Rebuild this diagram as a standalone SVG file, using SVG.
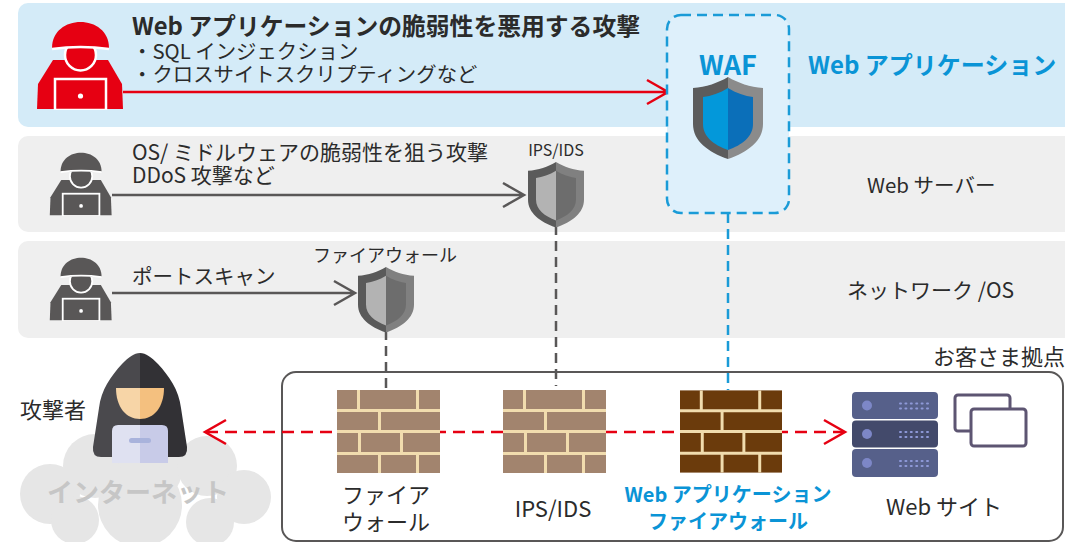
<svg xmlns="http://www.w3.org/2000/svg" xmlns:xlink="http://www.w3.org/1999/xlink" width="1065" height="542" viewBox="0 0 1065 542">
  <style>
    .t{font-family:"Noto Sans CJK JP","Noto Sans",sans-serif;fill:#2b2b2b}
    .b{font-weight:700}
    .blue{fill:#0a94d6}
    .mid{text-anchor:middle}
    .band-gray{fill:#efefef}
    .arrow-red{fill:none;stroke:#e60012;stroke-width:2.5}
    .arrow-gray{fill:none;stroke:#595757;stroke-width:2.5}
    .dash-gray{stroke:#595757;stroke-width:2.5;stroke-dasharray:10 6}
    .dash-blue{stroke:#1a9bd7;stroke-width:2.5;stroke-dasharray:10 6}
    .dash-red{stroke:#e60012;stroke-width:2.5;stroke-dasharray:12 7}
    .brick-line{stroke:#f1dcae;stroke-width:3}
    .win{fill:#fff;stroke:#5d5572;stroke-width:3}
  </style>
  <defs>
    <!-- hooded attacker with laptop -->
    <symbol id="hacker" viewBox="36 21 88 89">
      <path d="M53,60 L108,60 L122,84 L123,109 L37,109 L38,84 Z" fill="currentColor"/>
      <circle cx="80.5" cy="55" r="15.5" fill="currentColor" stroke="#fff" stroke-width="2.5"/>
      <path d="M52,48 C52,31 66,22 80.5,22 C95,22 109,31 109,48 Z" fill="currentColor"/>
      <path d="M52,49 Q80.5,45 109,49" fill="none" stroke="#fff" stroke-width="2.5"/>
      <rect x="55" y="79" width="51" height="31" fill="currentColor" stroke="#fff" stroke-width="2.5"/>
      <circle cx="80.5" cy="96" r="2.6" fill="#fff"/>
    </symbol>
    <!-- two-tone shield -->
    <symbol id="shield" viewBox="-35 0 70 82">
      <path style="fill:var(--ol)" d="M0,0 C-10,6 -22,10 -35,11 L-35,47 C-35,64 -20,75 0,82 Z"/>
      <path style="fill:var(--or)" d="M0,0 C10,6 22,10 35,11 L35,47 C35,64 20,75 0,82 Z"/>
      <path style="fill:var(--il)" d="M0,11 C-8,16 -17,19 -25,20 L-25,47 C-25,60 -14,68 0,73 Z"/>
      <path style="fill:var(--ir)" d="M0,11 C8,16 17,19 25,20 L25,47 C25,60 14,68 0,73 Z"/>
    </symbol>
    <!-- brick wall -->
    <symbol id="wall" viewBox="0 0 103 83">
      <rect x="0" y="0" width="103" height="83" fill="currentColor"/>
      <path class="brick-line" d="M0,20.5H103M0,41.5H103M0,63.5H103M21.5,0V19M80.5,0V19M42.5,22V40M22.5,43V62M64.5,43V62M42.5,65V83M80.5,65V83"/>
    </symbol>
  </defs>

  <!-- layer bands -->
  <rect x="18" y="3" width="1070" height="124" rx="10" fill="#d4ebf8"/>
  <rect class="band-gray" x="18" y="136" width="1070" height="96" rx="10"/>
  <rect class="band-gray" x="18" y="241" width="1070" height="97" rx="10"/>

  <!-- customer site frame -->
  <rect x="282" y="372" width="781" height="169" rx="14" fill="#fff" stroke="#595757" stroke-width="2"/>
  <text class="t" x="933" y="365" font-size="22">お客さま拠点</text>

  <!-- internet cloud -->
  <g id="cloud" fill="#e6e6e6">
    <circle cx="50" cy="494" r="30"/>
    <circle cx="95" cy="466" r="32"/>
    <circle cx="150" cy="470" r="32"/>
    <circle cx="207" cy="466" r="30"/>
    <circle cx="244" cy="497" r="27"/>
    <circle cx="140" cy="505" r="42"/>
    <circle cx="75" cy="520" r="24"/>
    <circle cx="210" cy="522" r="24"/>
  </g>
  <text class="t b" x="47" y="502" font-size="26" style="fill:#c6c6c6">インターネット</text>

  <!-- connectors -->
  <g id="connectors">
    <path class="arrow-red" d="M123,92H667M647,80L668,92L647,104"/>
    <path class="arrow-gray" d="M112,195H523M503,183L524,195L503,207"/>
    <path class="arrow-gray" d="M112,293H354M334,281L355,293L334,305"/>
    <line class="dash-gray" x1="386" y1="330" x2="386" y2="390"/>
    <line class="dash-gray" x1="556" y1="225" x2="556" y2="386"/>
    <line class="dash-blue" x1="728" y1="213" x2="728" y2="390"/>
    <line class="dash-red" x1="206" y1="432" x2="843" y2="432"/>
    <path class="arrow-red" d="M226,420L205,432L226,444M824,420L845,432L824,444"/>
  </g>

  <!-- attackers per layer -->
  <g id="attacker-app" style="color:#e60012">
    <use xlink:href="#hacker" x="36" y="21" width="88" height="89"/>
    <text class="t b" x="132" y="35" font-size="23.8">Web アプリケーションの脆弱性を悪用する攻撃</text>
    <text class="t" x="132" y="59" font-size="20.4">・SQL インジェクション</text>
    <text class="t" x="132" y="82" font-size="20.4">・クロスサイトスクリプティングなど</text>
  </g>
  <g id="attacker-os" style="color:#595757">
    <use xlink:href="#hacker" x="49" y="152" width="63.4" height="64"/>
    <text class="t" x="132" y="160" font-size="21">OS/ ミドルウェアの脆弱性を狙う攻撃</text>
    <text class="t" x="132" y="183" font-size="21">DDoS 攻撃など</text>
  </g>
  <g id="attacker-net" style="color:#595757">
    <use xlink:href="#hacker" x="49" y="257" width="63.4" height="64"/>
    <text class="t" x="132" y="284" font-size="20.5">ポートスキャン</text>
  </g>

  <!-- layer names -->
  <text class="t b blue" x="808" y="74" font-size="24">Web アプリケーション</text>
  <text class="t" x="867" y="193" font-size="20.5">Web サーバー</text>
  <text class="t" x="847" y="298" font-size="21">ネットワーク /OS</text>

  <!-- WAF -->
  <g id="waf">
    <rect x="667" y="15" width="122" height="198" rx="14" fill="#def0fb" class="dash-blue"/>
    <text class="t b blue mid" x="728" y="75" font-size="27">WAF</text>
    <use xlink:href="#shield" x="693" y="77" width="70" height="82" style="--ol:#5c5c5c;--or:#8b8b8b;--il:#0398da;--ir:#0b6fb9"/>
  </g>

  <!-- IPS/IDS shield -->
  <g id="ips-shield">
    <text class="t mid" x="556" y="156" font-size="16">IPS/IDS</text>
    <use xlink:href="#shield" x="528" y="162" width="56" height="65.6" style="--ol:#5a5a5a;--or:#808080;--il:#b3b3b3;--ir:#6d6d6d"/>
  </g>

  <!-- firewall shield -->
  <g id="fw-shield">
    <text class="t mid" x="385" y="262" font-size="18">ファイアウォール</text>
    <use xlink:href="#shield" x="358" y="267" width="56" height="65.6" style="--ol:#5a5a5a;--or:#808080;--il:#b3b3b3;--ir:#6d6d6d"/>
  </g>

  <!-- attacker on the internet -->
  <g id="attacker">
    <text class="t" x="20" y="418" font-size="22">攻撃者</text>
    <path d="M140,353 C134,353 129,357 122,364 C111,376 101,390 99,408 L93,447 Q92,457 101,457 L140,457 Z" fill="#4a494d"/>
    <path d="M140,353 C146,353 151,357 158,364 C169,376 179,390 181,408 L187,447 Q188,457 179,457 L140,457 Z" fill="#323135"/>
    <path d="M116,388 L140,388 L140,419 C126,419 116,407 116,388 Z" fill="#f7d5a7"/>
    <path d="M164,388 L140,388 L140,419 C154,419 164,407 164,388 Z" fill="#f4c07f"/>
    <path d="M140,425 L118,425 Q112,425 112,431 L112,463 L140,463 Z" fill="#dfe1f1"/>
    <path d="M140,425 L162,425 Q168,425 168,431 L168,463 L140,463 Z" fill="#c8cbe8"/>
    <rect x="129" y="438" width="22" height="5" rx="2.5" fill="#a9b3dc"/>
  </g>

  <!-- firewall -->
  <g id="firewall">
    <use xlink:href="#wall" x="337" y="390" width="103" height="83" style="color:#a2846e"/>
    <text class="t mid" x="386" y="503" font-size="22">ファイア</text>
    <text class="t mid" x="386" y="530" font-size="22">ウォール</text>
  </g>

  <!-- IPS/IDS -->
  <g id="ips">
    <use xlink:href="#wall" x="503" y="390" width="103" height="83" style="color:#a2846e"/>
    <text class="t mid" x="553" y="517" font-size="22">IPS/IDS</text>
  </g>

  <!-- web application firewall -->
  <g id="waf-wall">
    <use xlink:href="#wall" x="680" y="390" width="102" height="83" style="color:#6b3b0c"/>
    <text class="t b blue mid" x="728" y="502" font-size="20">Web アプリケーション</text>
    <text class="t b blue mid" x="728" y="529" font-size="20">ファイアウォール</text>
  </g>

  <!-- web site -->
  <g id="website">
    <rect x="852" y="392" width="86" height="27" rx="4" fill="#56608a"/>
    <rect x="852" y="420.5" width="86" height="27" rx="4" fill="#434a6b"/>
    <rect x="852" y="449" width="86" height="28" rx="4" fill="#56608a"/>
    <g fill="#7d87c7">
      <circle cx="867" cy="405.5" r="5"/>
      <circle cx="867" cy="434" r="5"/>
      <circle cx="867" cy="463" r="5"/>
    </g>
    <g fill="none" stroke="#8e99d8" stroke-width="2" stroke-linecap="round">
      <path d="M900,403.5h1M905.4,403.5h1M910.8,403.5h1M916.2,403.5h1M921.6,403.5h1M927,403.5h1M900,408.5h1M905.4,408.5h1M910.8,408.5h1M916.2,408.5h1M921.6,408.5h1M927,408.5h1"/>
      <path d="M900,432h1M905.4,432h1M910.8,432h1M916.2,432h1M921.6,432h1M927,432h1M900,437h1M905.4,437h1M910.8,437h1M916.2,437h1M921.6,437h1M927,437h1"/>
      <path d="M900,461h1M905.4,461h1M910.8,461h1M916.2,461h1M921.6,461h1M927,461h1M900,466h1M905.4,466h1M910.8,466h1M916.2,466h1M921.6,466h1M927,466h1"/>
    </g>
    <rect class="win" x="955" y="395" width="55" height="36" rx="3"/>
    <rect class="win" x="971" y="409" width="55" height="37" rx="3"/>
    <text class="t mid" x="944" y="515" font-size="22">Web サイト</text>
  </g>
</svg>
